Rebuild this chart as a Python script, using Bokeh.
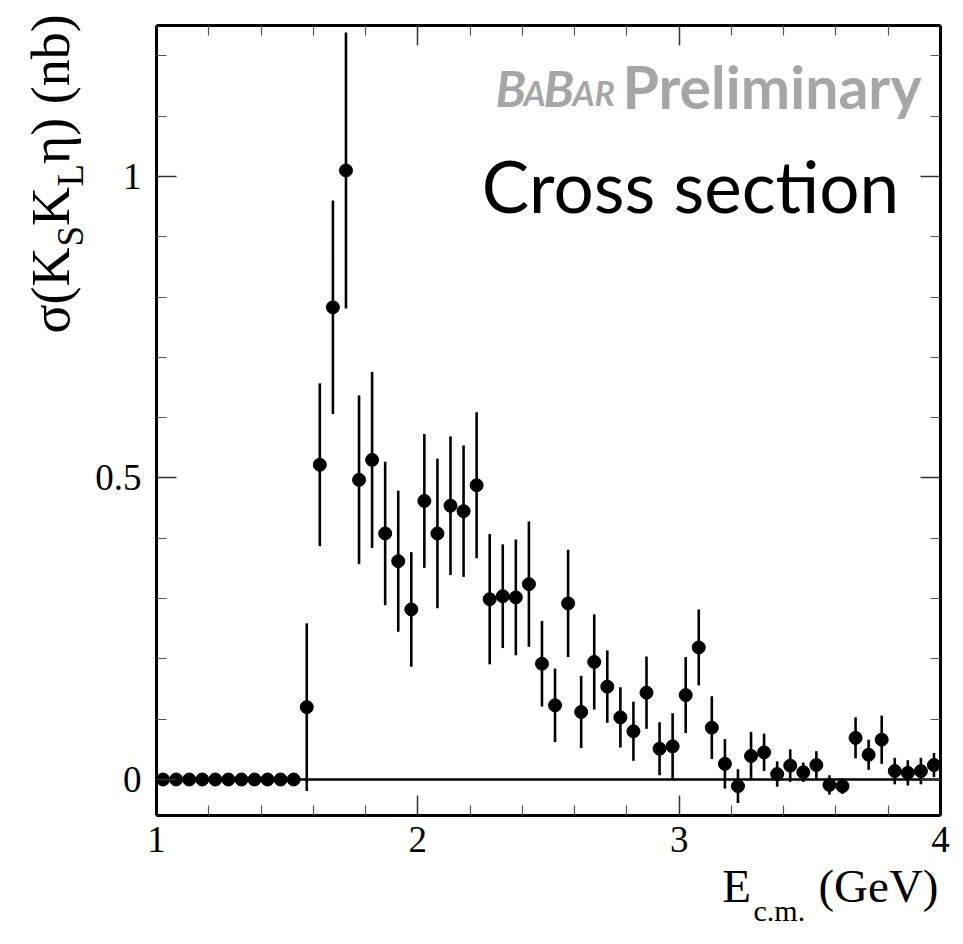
from math import pi
from bokeh.plotting import figure
from bokeh.models import Range1d, FixedTicker, LinearAxis, Label, CustomJSTickFormatter
from bokeh.embed import file_html
from bokeh.resources import INLINE

# ---------------- data ----------------
energy = [1.025, 1.075, 1.125, 1.175, 1.225, 1.275, 1.325, 1.375, 1.425, 1.475,
          1.525, 1.575, 1.625, 1.675, 1.725, 1.775, 1.825, 1.875, 1.925, 1.975,
          2.025, 2.075, 2.125, 2.175, 2.225, 2.275, 2.325, 2.375, 2.425, 2.475,
          2.525, 2.575, 2.625, 2.675, 2.725, 2.775, 2.825, 2.875, 2.925, 2.975,
          3.025, 3.075, 3.125, 3.175, 3.225, 3.275, 3.325, 3.375, 3.425, 3.475,
          3.525, 3.575, 3.625, 3.675, 3.725, 3.775, 3.825, 3.875, 3.925, 3.975]
sigma = [0.0, 0.0, 0.0, 0.0, 0.0, 0.0, 0.0, 0.0, 0.0, 0.0,
         0.0, 0.120, 0.522, 0.783, 1.010, 0.497, 0.530, 0.408, 0.362, 0.282,
         0.462, 0.408, 0.454, 0.445, 0.488, 0.299, 0.304, 0.302, 0.324, 0.192,
         0.123, 0.292, 0.112, 0.195, 0.154, 0.103, 0.080, 0.144, 0.051, 0.055,
         0.140, 0.219, 0.086, 0.026, -0.011, 0.039, 0.045, 0.009, 0.023, 0.012,
         0.024, -0.009, -0.011, 0.069, 0.041, 0.066, 0.014, 0.011, 0.014, 0.024]
sigma_err = [0.0, 0.0, 0.0, 0.0, 0.0, 0.0, 0.0, 0.0, 0.0, 0.0,
             0.0, 0.139, 0.135, 0.177, 0.229, 0.140, 0.146, 0.119, 0.117, 0.095,
             0.111, 0.124, 0.115, 0.109, 0.121, 0.108, 0.086, 0.096, 0.104, 0.071,
             0.061, 0.089, 0.060, 0.079, 0.060, 0.050, 0.049, 0.060, 0.044, 0.055,
             0.063, 0.063, 0.052, 0.041, 0.028, 0.040, 0.031, 0.021, 0.027, 0.016,
             0.023, 0.016, 0.013, 0.034, 0.025, 0.040, 0.022, 0.021, 0.022, 0.020]

x_major = [1, 2, 3, 4]
x_minor = [1.2, 1.4, 1.6, 1.8, 2.2, 2.4, 2.6, 2.8, 3.2, 3.4, 3.6, 3.8]
x_labels = {1: "1", 2: "2", 3: "3", 4: "4"}
y_major = [0, 0.5, 1]
y_minor = [0.1, 0.2, 0.3, 0.4, 0.6, 0.7, 0.8, 0.9, 1.1, 1.2]
y_labels = {0: "0", 0.5: "0.5", 1: "1"}

# axis box limits (data units)
X_LO, X_HI = 1.0, 4.0
Y_LO, Y_HI = -0.0597, 1.2504

# ---------------- figure ----------------
W, H = 955, 936
# the plotting frame fills the canvas; the framed axes box sits inside it
p = figure(width=W, height=H, output_backend="svg", toolbar_location=None,
           x_range=Range1d(0.40306, 0.40306 + W / 261.333),
           y_range=Range1d(1.29187 - H / 603.0, 1.29187),
           x_axis_location=None, y_axis_location=None,
           min_border=0, min_border_left=0, min_border_right=0,
           min_border_top=0, min_border_bottom=0)
p.grid.grid_line_color = None
p.outline_line_color = None
p.background_fill_color = "white"
p.border_fill_color = "white"

SERIF = "Liberation Serif"
blank = CustomJSTickFormatter(code="return ''")


def make_axis(ticker, loc, bounds, show_labels, overrides=None, standoff=12):
    ax = LinearAxis(ticker=ticker, fixed_location=loc, bounds=bounds)
    ax.axis_line_color = "black"
    ax.axis_line_width = 3
    ax.major_tick_in = 20
    ax.major_tick_out = 0
    ax.minor_tick_in = 10
    ax.minor_tick_out = 0
    ax.major_tick_line_color = "#333333"
    ax.major_tick_line_width = 1.5
    ax.minor_tick_line_color = "#555555"
    ax.minor_tick_line_width = 1.2
    if show_labels:
        ax.major_label_overrides = overrides
        ax.major_label_text_font = SERIF
        ax.major_label_text_font_size = "37px"
        ax.major_label_text_color = "black"
        ax.major_label_standoff = standoff
    else:
        ax.formatter = blank
        ax.major_label_text_font_size = "1px"
    return ax


xt = FixedTicker(ticks=x_major, minor_ticks=x_minor)
yt = FixedTicker(ticks=y_major, minor_ticks=y_minor)

p.add_layout(make_axis(xt, Y_LO, (X_LO, X_HI), True, x_labels, 12), "below")
p.add_layout(make_axis(yt, X_LO, (Y_LO, Y_HI), True, y_labels, 15), "left")
p.add_layout(make_axis(xt, Y_HI, (X_LO, X_HI), False), "above")
p.add_layout(make_axis(yt, X_HI, (Y_LO, Y_HI), False), "right")

# zero line across the box
p.line(x=[X_LO, X_HI], y=[0, 0], line_color="black", line_width=2.5)

# ---------------- data marks ----------------
ex = [e for e, s in zip(energy, sigma_err) if s > 0]
elo = [v - s for v, s in zip(sigma, sigma_err) if s > 0]
ehi = [v + s for v, s in zip(sigma, sigma_err) if s > 0]
p.segment(x0=ex, y0=elo, x1=ex, y1=ehi, line_color="black", line_width=2.6)
p.scatter(x=energy, y=sigma, size=13, fill_color="black", line_color="black")

# ---------------- texts ----------------
GRAY = "#a6a6a6"
babar = [("B", 2.2972, 1.1472, "50px"), ("A", 2.4044, 1.1392, "34px"),
         ("B", 2.4809, 1.1472, "50px"), ("AR", 2.5919, 1.1392, "34px")]
for t, xx, yy, fs in babar:
    p.add_layout(Label(x=xx, y=yy, text=t, text_font="Lato", text_font_style="bold italic",
                       text_font_size=fs, text_color=GRAY, text_align="left",
                       text_baseline="alphabetic"))
p.add_layout(Label(x=3.9273, y=1.1499, text="Preliminary", text_font="Lato",
                   text_font_style="bold", text_font_size="59px", text_color=GRAY,
                   text_align="right", text_baseline="alphabetic"))
p.add_layout(Label(x=3.0434, y=0.9856, text="Cross section", text_font="Lato",
                   text_font_size="71px", text_color="black", text_align="center",
                   text_baseline="alphabetic"))

# x-axis title
p.add_layout(Label(x=3.1647, y=-0.1765, text="E", text_font=SERIF, text_font_size="47px",
                   text_color="black", text_align="left", text_baseline="alphabetic"))
p.add_layout(Label(x=3.2845, y=-0.2177, text="c.m.", text_font=SERIF, text_font_size="30px",
                   text_color="black", text_align="left", text_baseline="alphabetic"))
p.add_layout(Label(x=3.9923, y=-0.1765, text="(GeV)", text_font=SERIF, text_font_size="47px",
                   text_color="black", text_align="right", text_baseline="alphabetic"))

# y-axis title (rotated), pieces placed from bottom to top
ylab = [("\u03c3(K", 0.5963, 0.7396, "54px"), ("S", 0.6709, 0.8839, "37px"),
        ("K", 0.5963, 0.9179, "54px"), ("L", 0.6709, 0.9834, "37px"),
        ("\u03b7) (nb)", 0.5963, 1.0207, "54px")]
for t, xx, yy, fs in ylab:
    p.add_layout(Label(x=xx, y=yy, text=t, text_font=SERIF, text_color="black",
                       text_font_size=fs, angle=pi / 2, text_align="left",
                       text_baseline="alphabetic"))

open("out.html", "w").write(file_html(p, INLINE))
